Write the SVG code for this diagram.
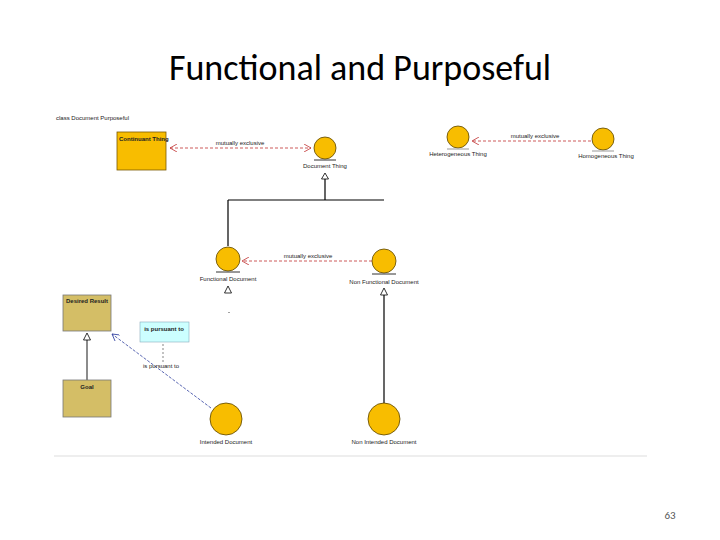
<svg xmlns="http://www.w3.org/2000/svg" width="720" height="540" viewBox="0 0 720 540">
<style>
.t{font-family:"Liberation Sans",Arial,sans-serif;font-size:6px;fill:#222}
.c{fill:#f8bd00;stroke:#5a4400;stroke-width:0.8}
.u{stroke:#333;stroke-width:1}
.g{fill:none;stroke:#000;stroke-width:1.2}
.tri{fill:#fff;stroke:#000;stroke-width:0.8}
.red{fill:none;stroke:#c03030;stroke-width:0.8;stroke-dasharray:3,2}
</style>
<defs>
<marker id="open" markerWidth="8" markerHeight="8" refX="7" refY="4" orient="auto-start-reverse" markerUnits="userSpaceOnUse"><path d="M0,0 L7,4 L0,8" fill="none" stroke="#c03030" stroke-width="0.8"/></marker>
<marker id="openb" markerWidth="8" markerHeight="8" refX="7" refY="4" orient="auto" markerUnits="userSpaceOnUse"><path d="M0,0 L7,4 L0,8" fill="none" stroke="#3040a0" stroke-width="0.8"/></marker>
</defs>
<rect width="720" height="540" fill="#fff"/>
<text x="360" y="80" text-anchor="middle" font-family="Calibri,Carlito,'Liberation Sans',sans-serif" font-size="36" fill="#000">Functional and Purposeful</text>
<text class="t" x="56" y="120">class Document Purposeful</text>
<g id="connectors">
<path class="red" d="M170,148 H311" marker-start="url(#open)" marker-end="url(#open)"/>
<path class="red" d="M591,141 H472" marker-end="url(#open)"/>
<path class="red" d="M372,261 H242" marker-end="url(#open)"/>
<path class="g" d="M325,179 V200 H384 M228,200 H325 M228,200 V246"/>
<polygon class="tri" points="325,173 321.5,179 328.5,179"/>
<path class="g" d="M384,295 V404"/>
<polygon class="tri" points="384,288 380.5,295 387.5,295"/>
<polygon class="tri" points="228,286 224.5,293 231.5,293"/>
<path d="M87,380 V340" fill="none" stroke="#666" stroke-width="1.5"/>
<polygon class="tri" points="87,333 83.5,340 90.5,340"/>
<path d="M211,408 L112,334" fill="none" stroke="#3040a0" stroke-width="0.8" stroke-dasharray="3,1.5" marker-end="url(#openb)"/>
<path d="M163,344 V364" fill="none" stroke="#333" stroke-width="0.6" stroke-dasharray="2,2"/>
<rect x="228.5" y="312" width="1" height="1" fill="#444"/>
<text class="t" x="240" y="145" text-anchor="middle">mutually exclusive</text>
<text class="t" x="535" y="138" text-anchor="middle">mutually exclusive</text>
<text class="t" x="308" y="258" text-anchor="middle">mutually exclusive</text>
<text class="t" x="161" y="368" text-anchor="middle">is pursuant to</text>
</g>
<g id="continuant"><rect x="117" y="132" width="49" height="38" fill="#f8bd00" stroke="#7a5a00" stroke-width="0.8"/><text class="t" x="119" y="141" font-weight="bold">Continuant Thing</text></g>
<g id="doc"><circle class="c" cx="325" cy="148" r="11"/><line class="u" x1="314" y1="160" x2="336" y2="160"/><text class="t" x="325" y="168" text-anchor="middle">Document Thing</text></g>
<g id="hetero"><circle class="c" cx="458" cy="137" r="11"/><line x1="447" y1="149" x2="469" y2="149" stroke="#999"/><text class="t" x="458" y="156" text-anchor="middle">Heterogeneous Thing</text></g>
<g id="homo"><circle class="c" cx="603" cy="139" r="11"/><line x1="592" y1="151" x2="614" y2="151" stroke="#999"/><text class="t" x="606" y="158" text-anchor="middle">Homogeneous Thing</text></g>
<g id="fd"><circle class="c" cx="228" cy="259" r="12"/><line class="u" x1="216" y1="272" x2="240" y2="272"/><text class="t" x="228" y="281" text-anchor="middle">Functional Document</text></g>
<g id="nfd"><circle class="c" cx="384" cy="261" r="12"/><line class="u" x1="372" y1="274" x2="396" y2="274"/><text class="t" x="384" y="284" text-anchor="middle">Non Functional Document</text></g>
<g id="desired"><rect x="63" y="295" width="48" height="36" fill="#d4be66" stroke="#777" stroke-width="0.8"/><text class="t" x="66" y="303" font-weight="bold">Desired Result</text></g>
<g id="goal"><rect x="63" y="380" width="48" height="37" fill="#d4be66" stroke="#777" stroke-width="0.8"/><text class="t" x="87" y="389" text-anchor="middle" font-weight="bold">Goal</text></g>
<g id="note"><rect x="140" y="322" width="49" height="20" fill="#ccffff" stroke="#8ab" stroke-width="0.6"/><text class="t" x="164" y="331" text-anchor="middle" font-weight="bold">is pursuant to</text></g>
<g id="intended"><circle class="c" cx="226" cy="419" r="16"/><text class="t" x="226" y="444" text-anchor="middle">Intended Document</text></g>
<g id="nonintended"><circle class="c" cx="384" cy="419" r="16"/><text class="t" x="384" y="444" text-anchor="middle">Non Intended Document</text></g>
<line x1="54" y1="456" x2="647" y2="456" stroke="#ddd" stroke-width="1"/>
<text x="670" y="519" text-anchor="middle" font-family="Calibri,Carlito,'Liberation Sans',sans-serif" font-size="11" fill="#555">63</text>
</svg>
